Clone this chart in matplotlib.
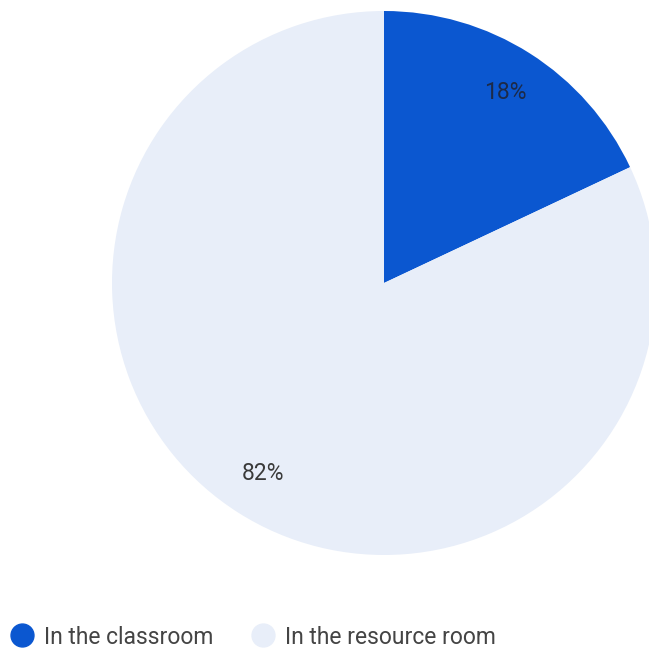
import matplotlib
matplotlib.use('Agg')
import matplotlib.pyplot as plt
from matplotlib.lines import Line2D

# Where students receive support (survey responses)
labels = ['In the classroom', 'In the resource room']
shares = [18, 82]
colors = ['#0B57D0', '#E8EEF9']

plt.rcParams['font.family'] = ['Roboto', 'DejaVu Sans']

W, H = 649, 651
fig = plt.figure(figsize=(W / 100, H / 100), dpi=100, facecolor='white')
ax = fig.add_axes([0, 0, 1, 1])

wedges, texts = ax.pie(
    shares, colors=colors, startangle=90, counterclock=False,
    center=(384, H - 283), radius=272,
    labels=[f'{v}%' for v in shares], labeldistance=0.83,
    textprops=dict(fontsize=16.5, color='#3a3a3a', ha='center', va='center'),
    wedgeprops=dict(linewidth=0),
)
texts[0].set_color('#1c2a48')

ax.set_xlim(0, W)
ax.set_ylim(0, H)
ax.set_aspect('equal')
ax.axis('off')

handles = [Line2D([], [], marker='o', linestyle='none', markersize=16.5,
                  markerfacecolor=c, markeredgecolor=c) for c in colors]
ax.legend(handles, labels, loc='center left', bbox_to_anchor=(10.5 / W, 1 - 637 / H),
          ncol=2, frameon=False, fontsize=16.5, labelcolor='#444444',
          handlelength=1.0, handletextpad=0.46, columnspacing=1.65,
          borderaxespad=0, borderpad=0)

fig.savefig('out.png', dpi=100, facecolor='white')
